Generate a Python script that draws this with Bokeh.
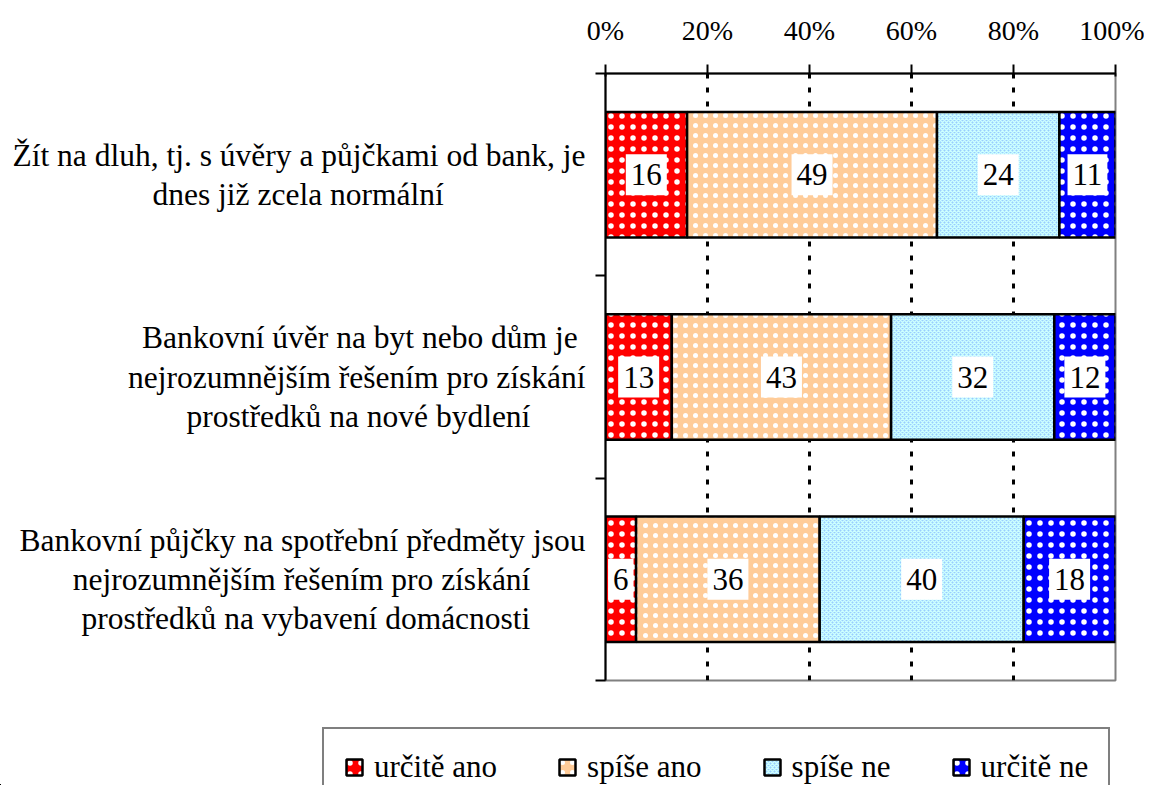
from bokeh.plotting import figure
from bokeh.layouts import column
from bokeh.models import (ColumnDataSource, Range1d, FixedTicker,
                          Legend, LegendItem, PrintfTickFormatter)
from bokeh.core.properties import value
from bokeh.embed import file_html
from bokeh.resources import INLINE

# ---- data ----
categories = [
    "Žít na dluh, tj. s úvěry a půjčkami od bank, je\ndnes již zcela normální",
    "Bankovní úvěr na byt nebo dům je\nnejrozumnějším řešením pro získání\nprostředků na nové bydlení",
    "Bankovní půjčky na spotřební předměty jsou\nnejrozumnějším řešením pro získání\nprostředků na vybavení domácnosti",
]
series_names = ["určitě ano", "spíše ano", "spíše ne", "určitě ne"]
urcite_ano = [16, 13, 6]
spise_ano = [49, 43, 36]
spise_ne = [24, 32, 40]
urcite_ne = [11, 12, 18]
x_ticks = [0, 20, 40, 60, 80, 100]

series_values = [urcite_ano, spise_ano, spise_ne, urcite_ne]
fill_colors = ["#FF0000", "#FFCC99", "#99CCFF", "#0000FF"]
hatch_colors = ["#FFFFFF", "#FFFFFF", "#CCFFFF", "#FFFFFF"]
hatch_patterns = [".", ".", "x", "."]
hatch_scales = [11, 10, 4, 11]
hatch_weights = [1, 0.5, 1.5, 1]

FONT = "Liberation Serif"

# centre the lines of each multi-line category label inside its block
CW = {" ": 250, ",": 250, ".": 250, "a": 444, "b": 500, "c": 444, "d": 500, "e": 444,
      "h": 500, "i": 278, "j": 278, "k": 500, "l": 278, "m": 778, "n": 500, "o": 500,
      "p": 500, "r": 333, "s": 389, "t": 278, "u": 500, "v": 500, "y": 500, "z": 444,
      "B": 667, "Ž": 611, "á": 444, "é": 444, "í": 278, "ú": 500, "ů": 500, "ý": 500,
      "č": 444, "ě": 444, "ř": 333, "š": 389, "ž": 444}


def text_em(s):
    return sum(CW.get(ch, 500) for ch in s) / 1000.0


def centred(label):
    lines = label.split("\n")
    widths = [text_em(l) for l in lines]
    m = max(widths)
    return "\n".join(l + "\u00a0" * int(round((m - w) / 2 / 0.25)) for l, w in zip(lines, widths))


n = len(categories)
ys = [n - i - 0.5 for i in range(n)]

p = figure(width=1144, height=720, x_range=Range1d(0, 100), y_range=Range1d(0, n),
           x_axis_location="above", output_backend="svg", toolbar_location=None,
           min_border_left=605, min_border_right=29, min_border_top=73,
           min_border_bottom=40)
p.frame_align = False
p.outline_line_color = "#808080"
p.outline_line_width = 2
p.background_fill_color = "white"

# top axis
xa = p.xaxis[0]
xa.ticker = FixedTicker(ticks=x_ticks, minor_ticks=[])
xa.formatter = PrintfTickFormatter(format="%d%%")
xa.axis_line_color = "black"
xa.axis_line_width = 2
xa.major_tick_line_color = "black"
xa.major_tick_line_width = 2
xa.major_tick_out = 9
xa.major_tick_in = 3
xa.minor_tick_line_color = None
xa.major_label_text_font = FONT
xa.major_label_text_font_size = "28px"
xa.major_label_text_color = "black"
xa.major_label_standoff = 19

# left axis: boundary ticks as minor ticks, labels at centres
ya = p.yaxis[0]
ya.ticker = FixedTicker(ticks=ys, minor_ticks=list(range(n + 1)))
ya.major_label_overrides = {y: centred(c) for y, c in zip(ys, categories)}
ya.axis_line_color = "black"
ya.axis_line_width = 2
ya.major_tick_line_color = None
ya.major_tick_out = 0
ya.major_tick_in = 0
ya.minor_tick_line_color = "black"
ya.minor_tick_line_width = 2
ya.minor_tick_out = 10
ya.minor_tick_in = 0
ya.major_label_text_font = FONT
ya.major_label_text_font_size = "31.5px"
ya.major_label_text_color = "black"
ya.major_label_text_line_height = 1.12
ya.major_label_standoff = 10

p.ygrid.grid_line_color = None
p.xgrid.ticker = FixedTicker(ticks=x_ticks)
p.xgrid.grid_line_color = "black"
p.xgrid.grid_line_width = 3
p.xgrid.grid_line_dash = "5 9"

style = []
for fc, hp, hc, hs, hw in zip(fill_colors, hatch_patterns, hatch_colors, hatch_scales, hatch_weights):
    style.append(dict(fill_color=fc, line_color="black", line_width=2.5,
                      hatch_pattern=hp, hatch_color=hc, hatch_scale=hs,
                      hatch_weight=hw))

# bars
left = [0.0] * n
sources = []
label_x, label_y, label_t = [], [], []
for vals, st in zip(series_values, style):
    right = [l + v for l, v in zip(left, vals)]
    src = ColumnDataSource(dict(y=ys, left=left, right=right))
    sources.append(src)
    p.hbar(y="y", left="left", right="right", height=0.62, source=src, **st)
    for l, v, y in zip(left, vals, ys):
        label_x.append(l + v / 2)
        label_y.append(y)
        label_t.append(str(v))
    left = right

lsrc = ColumnDataSource(dict(x=label_x, y=label_y, t=label_t))
p.text(x="x", y="y", text="t", source=lsrc, text_align="center",
       text_baseline="middle", text_font=value(FONT), text_font_size="31px",
       text_color="black", background_fill_color="white",
       padding=dict(left=5, right=5, top=10, bottom=10))

# legend strip below (its renderers share the bar data, which lies far outside this strip's view)
q = figure(width=1144, height=65, x_range=Range1d(1000, 1001), y_range=Range1d(1000, 1001),
           x_axis_type=None, y_axis_type=None, output_backend="svg",
           toolbar_location=None, min_border=0)
q.frame_align = False
q.outline_line_color = None
q.grid.visible = False
items = []
for nm, st, src in zip(series_names, style, sources):
    r = q.hbar(y="y", left="left", right="right", height=0.62, source=src, **st)
    items.append(LegendItem(label=nm, renderers=[r]))
legend = Legend(items=items, orientation="horizontal", location=(322, -22),
                border_line_color="black", border_line_width=2.5,
                padding=20, spacing=60, label_standoff=10,
                glyph_width=20, glyph_height=20,
                label_text_font=FONT, label_text_font_size="31px",
                label_text_color="black", background_fill_alpha=1.0)
q.add_layout(legend)

layout = column(p, q, spacing=0)
open("out.html", "w").write(file_html(layout, INLINE))
